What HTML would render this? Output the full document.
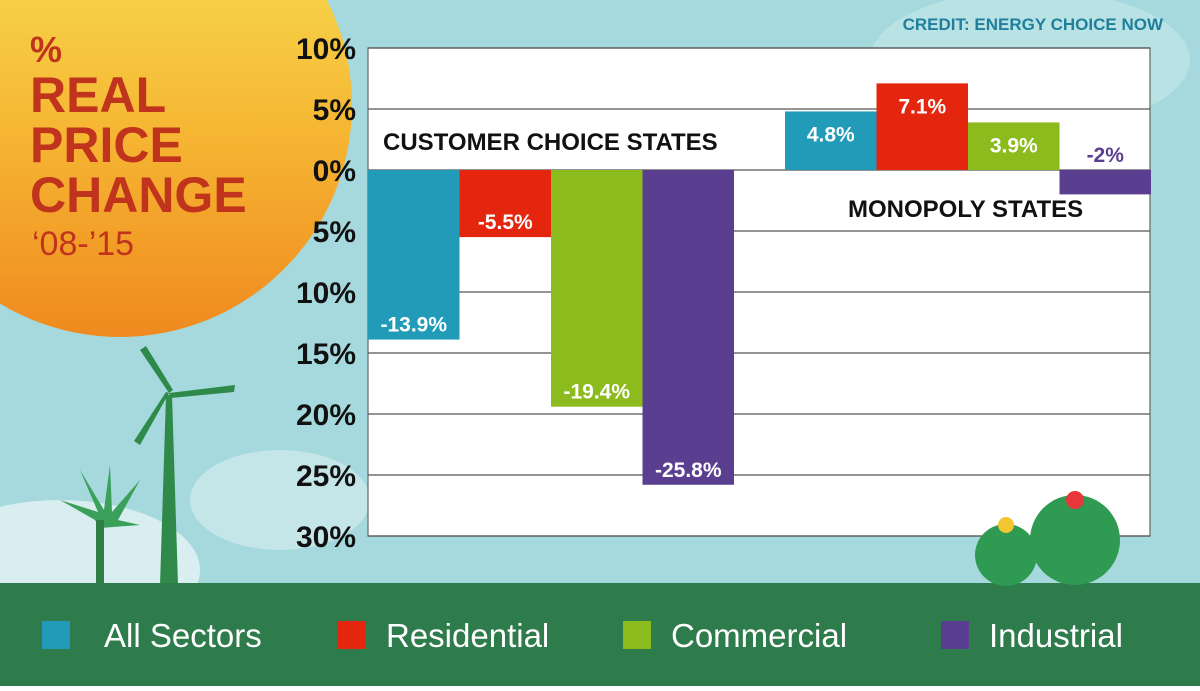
<!DOCTYPE html>
<html><head><meta charset="utf-8">
<style>
body{margin:0;width:1200px;height:686px;overflow:hidden;font-family:"Liberation Sans",sans-serif}
svg text{font-family:"Liberation Sans",sans-serif}
</style></head>
<body>
<svg width="1200" height="686" viewBox="0 0 1200 686">
<defs>
<linearGradient id="sun" x1="0" y1="0" x2="0" y2="1">
<stop offset="0" stop-color="#f6e85a"/><stop offset="0.55" stop-color="#f6b733"/><stop offset="1" stop-color="#ef8a1f"/>
</linearGradient>
</defs>
<rect x="0" y="0" width="1200" height="686" fill="#a6d9dd"/>
<ellipse cx="1030" cy="60" rx="160" ry="70" fill="#b9e2e5"/>
<circle cx="120" cy="105" r="232" fill="url(#sun)"/>
<ellipse cx="60" cy="570" rx="140" ry="70" fill="#d9eef0"/>
<ellipse cx="280" cy="500" rx="90" ry="50" fill="#c4e6e8"/>
<g fill="#c0341d" font-weight="bold">
<text x="30" y="62" font-size="36">%</text>
<text x="30" y="112" font-size="50">REAL</text>
<text x="30" y="162" font-size="50">PRICE</text>
<text x="30" y="212" font-size="50">CHANGE</text>
<text x="32" y="255" font-size="34" font-weight="normal">‘08-’15</text>
</g>
<text x="1163" y="30" font-size="17" font-weight="bold" fill="#1f7f9c" text-anchor="end">CREDIT: ENERGY CHOICE NOW</text>
<g fill="#2f8a4a">
<polygon points="166,395 172,395 178,585 160,585"/>
<polygon points="169,393 140,350 146,346 173,390"/>
<polygon points="169,393 235,385 234,392 171,398"/>
<polygon points="169,393 140,445 134,441 166,392"/>
</g>
<g fill="#3aa05a">
<polygon points="95,520 60,500 98,512 80,470 104,510 110,465 112,512 140,480 118,520 140,525 100,528"/>
<rect x="96" y="520" width="8" height="70" fill="#2f7c44"/>
</g>
<rect x="0" y="583" width="1200" height="103" fill="#2e7b4c"/>
<g id="chart"></g>
<g>
<circle cx="1075" cy="540" r="45" fill="#2f9a52"/>
<circle cx="1006" cy="555" r="31" fill="#2f9a52"/>
<circle cx="1075" cy="500" r="9" fill="#e8373a"/>
<circle cx="1006" cy="525" r="8" fill="#f3c631"/>
</g>
<g font-size="33" fill="#ffffff">
<rect x="42" y="621" width="28" height="28" fill="#219bb8"/>
<text x="104" y="647">All Sectors</text>
<rect x="337" y="621" width="28" height="28" fill="#e5260f"/>
<text x="386" y="647">Residential</text>
<rect x="623" y="621" width="28" height="28" fill="#8cbb1d"/>
<text x="671" y="647">Commercial</text>
<rect x="941" y="621" width="28" height="28" fill="#5a3f91"/>
<text x="989" y="647">Industrial</text>
</g>
</svg>
<script>
const tickValues=[10,5,0,-5,-10,-15,-20,-25,-30];
const tickLabels=["10%","5%","0%","5%","10%","15%","20%","25%","30%"];
const sectors=["All Sectors","Residential","Commercial","Industrial"];
const choiceValues=[-13.9,-5.5,-19.4,-25.8];
const monopolyValues=[4.8,7.1,3.9,-2];
const colors=["#219bb8","#e5260f","#8cbb1d","#5a3f91"];
const NS="http://www.w3.org/2000/svg";
const g=document.getElementById('chart');
const X0=368,X1=1150,BW=91.5;
function y(v){return 170-v*12.2;}
function el(t,a,p){const e=document.createElementNS(NS,t);for(const k in a)e.setAttribute(k,a[k]);(p||g).appendChild(e);return e;}
const plot=el('rect',{x:X0,y:y(10),width:X1-X0,height:y(-30)-y(10),fill:'#ffffff',stroke:'#666',"stroke-width":1.2});


tickValues.forEach((v,i)=>{
  const l=el('line',{x1:X0,x2:X1,y1:y(v),y2:y(v),stroke:'#555',"stroke-width":1.2});
  
  
  const t=el('text',{x:356,y:y(v)+11,"font-size":30,"font-weight":"bold","text-anchor":"end",fill:'#111'});
  t.textContent=tickLabels[i];
  
  
});
function drawBar(v,i,x0,isChoice){
  const x=x0+i*BW,top=Math.min(y(v),y(0)),h=Math.abs(y(v)-y(0));
  const r=el('rect',{x:x,y:top,width:BW,height:h,fill:colors[i]});
  
  
  const lab=v+'%';
  let ty,fill='#fff';
  if(v<0&&h<40){ty=y(0)-8;fill=colors[i];}
  else if(v<0){ty=y(v)-8;}
  else{ty=y(v)+30;}
  const t=el('text',{x:x+BW/2,y:ty,"font-size":21,"font-weight":"bold","text-anchor":"middle",fill:fill});
  t.textContent=lab;
  
  
}
choiceValues.forEach((v,i)=>drawBar(v,i,X0,true));
monopolyValues.forEach((v,i)=>drawBar(v,i,785,false));
const c1=el('text',{x:383,y:150,"font-size":24,"font-weight":"bold",fill:'#111'});
c1.textContent='CUSTOMER CHOICE STATES';


const c2=el('text',{x:848,y:217,"font-size":24,"font-weight":"bold",fill:'#111'});
c2.textContent='MONOPOLY STATES';


</script>
</body></html>
